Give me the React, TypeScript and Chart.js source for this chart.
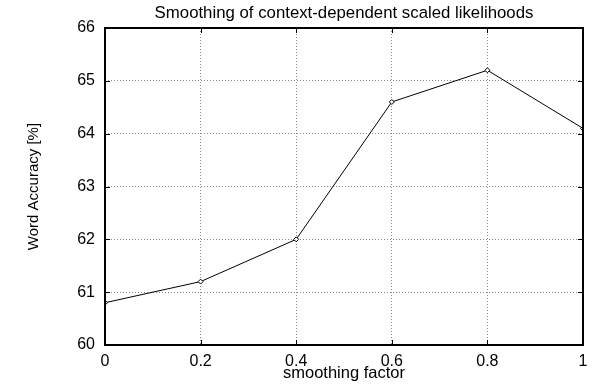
import React, { useEffect, useRef } from "react";
import { Chart, registerables } from "chart.js";

Chart.register(...registerables);

const chartTitle = "Smoothing of context-dependent scaled likelihoods";
const xAxisTitle = "smoothing factor";
const yAxisTitle = "Word Accuracy [%]";
const smoothingFactors = [0, 0.2, 0.4, 0.6, 0.8, 1];
const wordAccuracy = [60.8, 61.2, 62.0, 64.6, 65.2, 64.1];
const yMin = 60;
const yMax = 66;
const xStep = 0.2;

const FONT = "'Liberation Sans', Arial, Helvetica, sans-serif";

const framePlugin = {
  id: "frame",
  afterDraw(chart: any) {
    const ctx: CanvasRenderingContext2D = chart.ctx;
    const { left, right, top, bottom } = chart.chartArea;
    const xs = chart.scales.x;
    const ys = chart.scales.y;
    const L = Math.round(left);
    const R = Math.round(right);
    const T = Math.round(top);
    const B = Math.round(bottom);
    ctx.save();
    ctx.fillStyle = "rgb(0,0,0)";
    const tl = 5;
    for (const t of xs.ticks) {
      const px = Math.round(xs.getPixelForValue(t.value));
      ctx.fillRect(px, B - tl, 1, tl);
      ctx.fillRect(px, T, 1, tl);
    }
    for (const t of ys.ticks) {
      const py = Math.round(ys.getPixelForValue(t.value));
      ctx.fillRect(L, py, tl, 1);
      ctx.fillRect(R - tl, py, tl, 1);
    }
    ctx.fillRect(L - 1, T - 1, R - L + 2, 2);
    ctx.fillRect(L - 1, B - 1, R - L + 2, 2);
    ctx.fillRect(L - 1, T - 1, 2, B - T + 2);
    ctx.fillRect(R - 1, T - 1, 2, B - T + 2);
    ctx.font = `16.8px ${FONT}`;
    ctx.textAlign = "center";
    ctx.textBaseline = "middle";
    ctx.fillText(chartTitle, (left + right) / 2, top - 15);
    ctx.restore();
  },
};

export default function App() {
  const ref = useRef<HTMLCanvasElement | null>(null);
  useEffect(() => {
    if (!ref.current) return;
    const chart = new Chart(ref.current, {
      type: "line",
      data: {
        datasets: [
          {
            data: smoothingFactors.map((x, i) => ({ x, y: wordAccuracy[i] })),
            borderColor: "#000",
            borderWidth: 1,
            pointStyle: "rectRot",
            pointRadius: 2.5,
            pointBackgroundColor: "#fff",
            pointBorderColor: "#000",
            pointBorderWidth: 1,
            tension: 0,
          },
        ],
      },
      options: {
        animation: false,
        responsive: false,
        layout: { padding: { left: 0, right: 16, top: 28, bottom: 0 } },
        plugins: {
          legend: { display: false },
          tooltip: { enabled: false },
          title: { display: false },
        },
        scales: {
          x: {
            type: "linear",
            min: 0,
            max: 1,
            afterFit(scale: any) {
              scale.height = 40;
            },
            ticks: {
              stepSize: xStep,
              color: "#000",
              font: { family: FONT, size: 16 },
              padding: 7,
              maxRotation: 0,
              callback: (v: any) => String(Math.round(Number(v) * 10) / 10),
            },
            grid: {
              color: "#888",
              lineWidth: 1,
              drawTicks: false,
            },
            border: { display: false, dash: [1, 2] },
            title: {
              display: true,
              text: xAxisTitle,
              color: "#000",
              font: { family: FONT, size: 16.5 },
              padding: { top: 0, bottom: 1.5 },
            },
          },
          y: {
            min: yMin,
            max: yMax,
            afterFit(scale: any) {
              scale.width = 105;
            },
            ticks: {
              stepSize: 1,
              color: "#000",
              font: { family: FONT, size: 16 },
              padding: 10,
            },
            grid: {
              color: "#888",
              lineWidth: 1,
              drawTicks: false,
            },
            border: { display: false, dash: [1, 2] },
            title: {
              display: true,
              text: yAxisTitle,
              color: "#000",
              font: { family: FONT, size: 15 },
              padding: { top: 25, bottom: 0 },
            },
          },
        },
      } as any,
      plugins: [framePlugin],
    });
    return () => chart.destroy();
  }, []);
  return (
    <div style={{ position: "fixed", left: 0, top: 0, width: 599, height: 385, background: "#fff" }}>
      <canvas ref={ref} width={599} height={385} />
    </div>
  );
}
